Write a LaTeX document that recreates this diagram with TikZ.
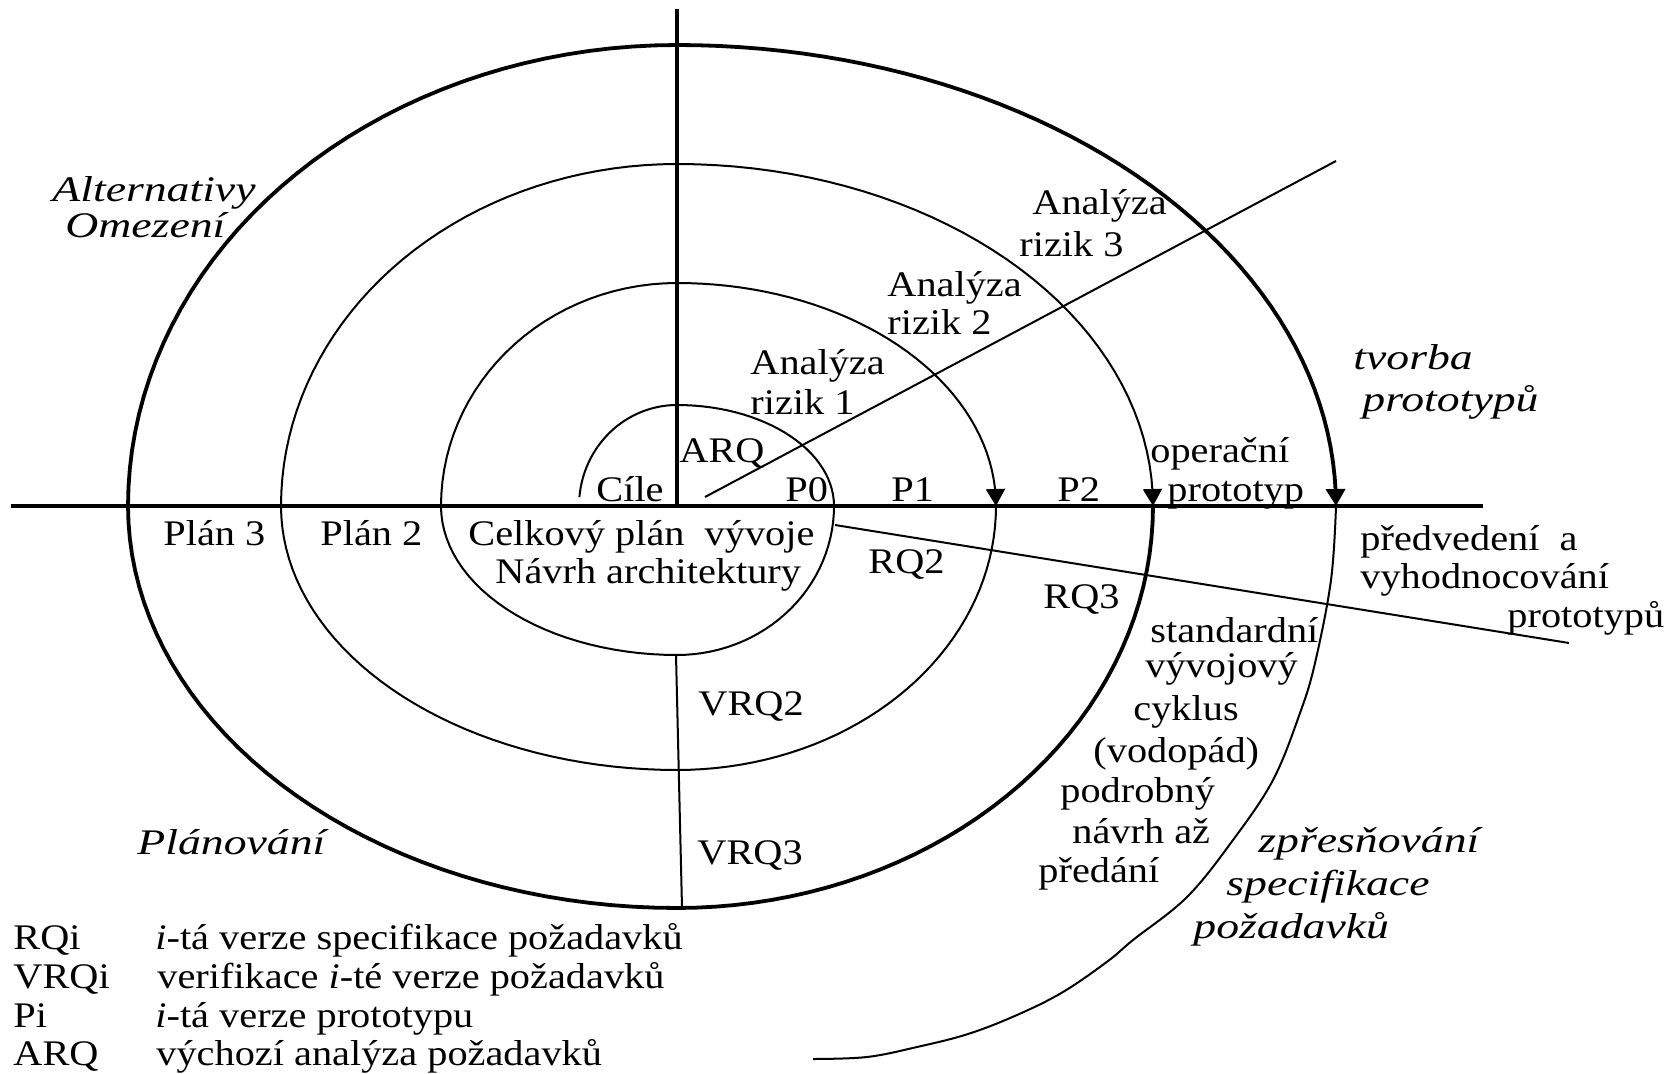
\documentclass[tikz,border=0pt]{standalone}
\usepackage{fontspec}
\setmainfont{Liberation Serif}[FakeStretch=1.12]
\newfontfamily\itfam{Liberation Serif}[FakeStretch=1.27]
\usetikzlibrary{arrows.meta}
\begin{document}
\begin{tikzpicture}[x=0.5pt,y=-0.5pt,
  lbl/.style={anchor=base west,inner sep=0pt,font=\fontsize{18}{20}\selectfont},
  ilbl/.style={anchor=base west,inner sep=0pt,font=\fontsize{18}{20}\selectfont\itfam\itshape},
  axisline/.style={line width=1.6pt},
  thinline/.style={line width=1pt},
  heavyline/.style={line width=1.9pt},
  tipend/.style={-{Triangle[width=9.5pt,length=8.5pt]}}
]
\useasboundingbox (0,0) rectangle (1679,1074);

% coordinates
\coordinate (hL) at (11,506);
\coordinate (hR) at (1483,506);
\coordinate (vT) at (677,9);
\coordinate (O) at (677,506);
\coordinate (dUa) at (705,497);
\coordinate (dUb) at (1336,161);
\coordinate (dDa) at (835,525);
\coordinate (dDb) at (1569,643);
\coordinate (lVa) at (676,655);
\coordinate (lVb) at (682,908);

% axes and dividing lines
\draw[axisline] (hL) -- (hR);
\draw[axisline] (vT) -- (O);
\draw[thinline] (dUa) -- (dUb);
\draw[thinline] (dDa) -- (dDb);
\draw[thinline] (lVa) -- (lVb);

% spiral, inner thin part
\draw[thinline,tipend]
  plot[domain=175:90,samples=30,variable=\t] ({677+98*cos(\t)},{506-101*sin(\t)})
  -- plot[domain=90:0,samples=30,variable=\t] ({677+157*cos(\t)},{506-101*sin(\t)})
  -- plot[domain=0:-90,samples=30,variable=\t] ({677+157*cos(\t)},{506-149*sin(\t)})
  -- plot[domain=-90:-180,samples=30,variable=\t] ({677+236*cos(\t)},{506-149*sin(\t)})
  -- plot[domain=180:90,samples=30,variable=\t] ({677+236*cos(\t)},{506-223*sin(\t)})
  -- plot[domain=90:0,samples=40,variable=\t] ({677+319*cos(\t)},{506-223*sin(\t)});
\draw[thinline,tipend]
  plot[domain=0:-90,samples=40,variable=\t] ({677+319*cos(\t)},{506-264*sin(\t)})
  -- plot[domain=-90:-180,samples=40,variable=\t] ({677+396*cos(\t)},{506-264*sin(\t)})
  -- plot[domain=180:90,samples=40,variable=\t] ({677+396*cos(\t)},{506-342*sin(\t)})
  -- plot[domain=90:0,samples=40,variable=\t] ({677+476*cos(\t)},{506-342*sin(\t)});
% outer thick part
\draw[heavyline,tipend]
  plot[domain=0:-90,samples=40,variable=\t] ({677+476*cos(\t)},{506-402*sin(\t)})
  -- plot[domain=-90:-180,samples=40,variable=\t] ({677+549*cos(\t)},{506-402*sin(\t)})
  -- plot[domain=180:90,samples=40,variable=\t] ({677+549*cos(\t)},{506-461*sin(\t)})
  -- plot[domain=90:0,samples=50,variable=\t] ({677+659*cos(\t)},{506-461*sin(\t)});
% tail
\draw[thinline] plot[smooth,tension=0.6] coordinates {(1336,506) (1331,580) (1315,663) (1300,713) (1273,780) (1233,840) (1187,897) (1133,940) (1108,961) (1063,992) (1017,1015) (968,1034) (917,1047) (867,1057) (813,1059)};

% labels
\node[ilbl] (t1) at (52,202) {Alternativy};
\node[ilbl] (t2) at (65,238) {Omezení};
\node[lbl] (t3) at (1032,215) {Analýza};
\node[lbl] (t4) at (1019,257) {rizik 3};
\node[lbl] (t5) at (887,297) {Analýza};
\node[lbl] (t6) at (887,335) {rizik 2};
\node[lbl] (t7) at (750,375) {Analýza};
\node[lbl] (t8) at (750,415) {rizik 1};
\node[lbl] (t9) at (679,462) {ARQ};
\node[lbl] (t10) at (596,502) {Cíle};
\node[lbl] (t11) at (785,502) {P0};
\node[lbl] (t12) at (891,502) {P1};
\node[lbl] (t13) at (1057,502) {P2};
\node[lbl] (t14) at (1150,462) {operační};
\node[lbl] (t15) at (1167,502) {prototyp};
\node[ilbl] (t16) at (1353,370) {tvorba};
\node[ilbl] (t17) at (1362,412) {prototypů};
\node[lbl] (t18) at (163,545) {Plán 3};
\node[lbl] (t19) at (320,545) {Plán 2};
\node[lbl] (t20) at (468,545) {Celkový plán~~vývoje};
\node[lbl] (t21) at (495,583) {Návrh architektury};
\node[lbl] (t22) at (868,573) {RQ2};
\node[lbl] (t23) at (1043,608) {RQ3};
\node[lbl] (t24) at (1360,550) {předvedení~~a};
\node[lbl] (t25) at (1360,588) {vyhodnocování};
\node[lbl] (t26) at (1507,627) {prototypů};
\node[lbl] (t27) at (1150,642) {standardní};
\node[lbl] (t28) at (1145,677) {vývojový};
\node[lbl] (t29) at (1133,720) {cyklus};
\node[lbl] (t30) at (1093,762) {(vodopád)};
\node[lbl] (t31) at (1060,802) {podrobný};
\node[lbl] (t32) at (1072,843) {návrh až};
\node[lbl] (t33) at (1038,882) {předání};
\node[ilbl] (t34) at (1258,852) {zpřesňování};
\node[ilbl] (t35) at (1226,895) {specifikace};
\node[ilbl] (t36) at (1193,938) {požadavků};
\node[ilbl] (t37) at (137,854) {Plánování};
\node[lbl] (t38) at (698,715) {VRQ2};
\node[lbl] (t39) at (697,864) {VRQ3};
% legend
\node[lbl] (k1) at (13,949) {RQi};
\node[lbl] (v1) at (155,949) {\textit{i}-tá verze specifikace požadavků};
\node[lbl] (k2) at (13,988) {VRQi};
\node[lbl] (v2) at (157,988) {verifikace \textit{i}-té verze požadavků};
\node[lbl] (k3) at (13,1027) {Pi};
\node[lbl] (v3) at (155,1027) {\textit{i}-tá verze prototypu};
\node[lbl] (k4) at (13,1065) {ARQ};
\node[lbl] (v4) at (156,1065) {výchozí analýza požadavků};
\end{tikzpicture}
\end{document}
